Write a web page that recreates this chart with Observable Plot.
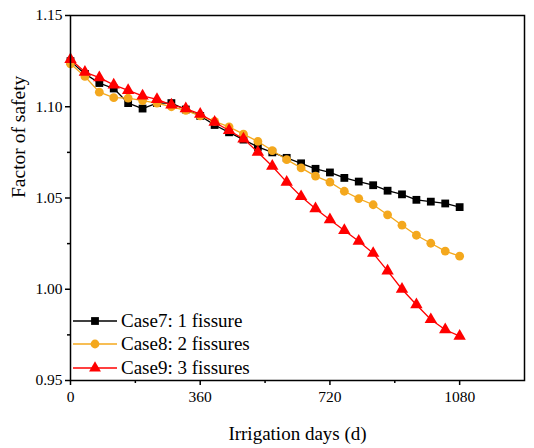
<!DOCTYPE html>
<html>
<head>
<meta charset="utf-8">
<script src="https://cdn.jsdelivr.net/npm/d3@7"></script>
<script src="https://cdn.jsdelivr.net/npm/@observablehq/plot@0.6"></script>
<style>
  body { margin: 0; background: #fff; }
  #wrap { position: relative; width: 534px; height: 448px; font-family: "Liberation Serif", "Times New Roman", serif; }
  #chart svg, #chart svg text { font-family: "Liberation Serif", "Times New Roman", serif !important; }
  #legend { position: absolute; left: 73px; top: 309px; font-size: 19px; color: #000; }
  .row { display: flex; align-items: center; height: 23.5px; }
  .row svg { margin-right: 4px; }
</style>
</head>
<body>
<div id="wrap"><div id="chart"></div><div id="legend"></div></div>
<script>
const days = [0,40,80,120,160,200,240,280,320,360,400,440,480,520,560,600,640,680,720,760,800,840,880,920,960,1000,1040,1080];
const case7 = [1.125,1.118,1.113,1.110,1.102,1.099,1.102,1.102,1.0985,1.095,1.090,1.086,1.082,1.078,1.075,1.072,1.069,1.066,1.064,1.061,1.059,1.057,1.054,1.052,1.049,1.048,1.047,1.045];
const case8 = [1.1235,1.1166,1.108,1.105,1.1047,1.1034,1.102,1.100,1.098,1.095,1.092,1.089,1.085,1.081,1.076,1.071,1.0665,1.062,1.0587,1.0537,1.0497,1.0463,1.0408,1.0351,1.0296,1.0252,1.0209,1.0181];
const case9 = [1.126,1.119,1.116,1.112,1.109,1.106,1.104,1.101,1.099,1.096,1.0915,1.087,1.0824,1.0751,1.0674,1.0587,1.0508,1.0441,1.0381,1.0322,1.0263,1.0197,1.0101,1.0000,0.9915,0.9834,0.9778,0.9743];
const seriesNames = ["Case7: 1 fissure","Case8: 2 fissures","Case9: 3 fissures"];
const colors = ["#000000","#F4A81D","#FF0000"];
const symbols = ["square","circle","triangle"];
const xMajor = [0,360,720,1080];
const xMinor = [180,540,900];
const yMajor = [0.95,1.00,1.05,1.10,1.15];
const yMinor = [0.975,1.025,1.075,1.125];

const allSeries = [case7, case8, case9];
const data = [];
allSeries.forEach((vals, i) => vals.forEach((v, j) => data.push({day: days[j], fos: v, series: seriesNames[i]})));

const marks = [];
seriesNames.forEach((name, i) => {
  const d = data.filter(r => r.series === name);
  marks.push(Plot.line(d, {x: "day", y: "fos", stroke: colors[i], strokeWidth: 1.3}));
  marks.push(Plot.dot(d, {x: "day", y: "fos", fill: colors[i], stroke: "none", symbol: symbols[i], r: i === 2 ? 4.6 : 4.4}));
});

const chart = Plot.plot({
  width: 534,
  height: 448,
  marginLeft: 70,
  marginRight: 10,
  marginTop: 15,
  marginBottom: 68,
  style: {fontFamily: "'Liberation Serif', 'Times New Roman', serif", fontSize: "15.5px", color: "#000", background: "#fff"},
  x: {domain: [0, 1260]},
  y: {domain: [0.95, 1.15]},
  marks: [
    Plot.axisX({ticks: xMajor, tickSize: 5, tickPadding: 5, tickFormat: d => String(d), strokeWidth: 1.5, label: null}),
    Plot.axisX({ticks: xMinor, tickSize: 3, tickFormat: () => "", strokeWidth: 1.5, label: null}),
    Plot.axisY({ticks: yMajor, tickSize: 5, tickPadding: 3, tickFormat: d3.format(".2f"), strokeWidth: 1.5, label: null}),
    Plot.axisY({ticks: yMinor, tickSize: 3, tickFormat: () => "", strokeWidth: 1.5, label: null}),
    Plot.text(["Irrigation days (d)"], {frameAnchor: "bottom", dy: 59, fontSize: 19, text: d => d}),
    Plot.text(["Factor of safety"], {frameAnchor: "left", dx: -52, rotate: -90, fontSize: 19.5, text: d => d}),
    ...marks,
    Plot.frame({stroke: "#000", strokeWidth: 1.5})
  ]
});
chart.querySelectorAll('g[aria-label$="tick label"]').forEach(g => {
  g.setAttribute("font-size", "15.5");
  g.querySelectorAll("text").forEach(t => t.setAttribute("font-size", "15.5"));
});
document.getElementById("chart").appendChild(chart);

const legend = document.getElementById("legend");
seriesNames.forEach((name, i) => {
  const row = document.createElement("div");
  row.className = "row";
  const ns = "http://www.w3.org/2000/svg";
  const svg = document.createElementNS(ns, "svg");
  svg.setAttribute("width", "44");
  svg.setAttribute("height", "14");
  const ln = document.createElementNS(ns, "line");
  ln.setAttribute("x1", 0); ln.setAttribute("x2", 44); ln.setAttribute("y1", 7); ln.setAttribute("y2", 7);
  ln.setAttribute("stroke", colors[i]); ln.setAttribute("stroke-width", 1.3);
  svg.appendChild(ln);
  const p = document.createElementNS(ns, "path");
  p.setAttribute("d", d3.symbol(i === 0 ? d3.symbolSquare : i === 1 ? d3.symbolCircle : d3.symbolTriangle, Math.PI * 4.4 * 4.4)());
  p.setAttribute("transform", "translate(22,7)");
  p.setAttribute("fill", colors[i]);
  svg.appendChild(p);
  row.appendChild(svg);
  const t = document.createElement("span");
  t.textContent = name;
  row.appendChild(t);
  legend.appendChild(row);
});
</script>
</body>
</html>
